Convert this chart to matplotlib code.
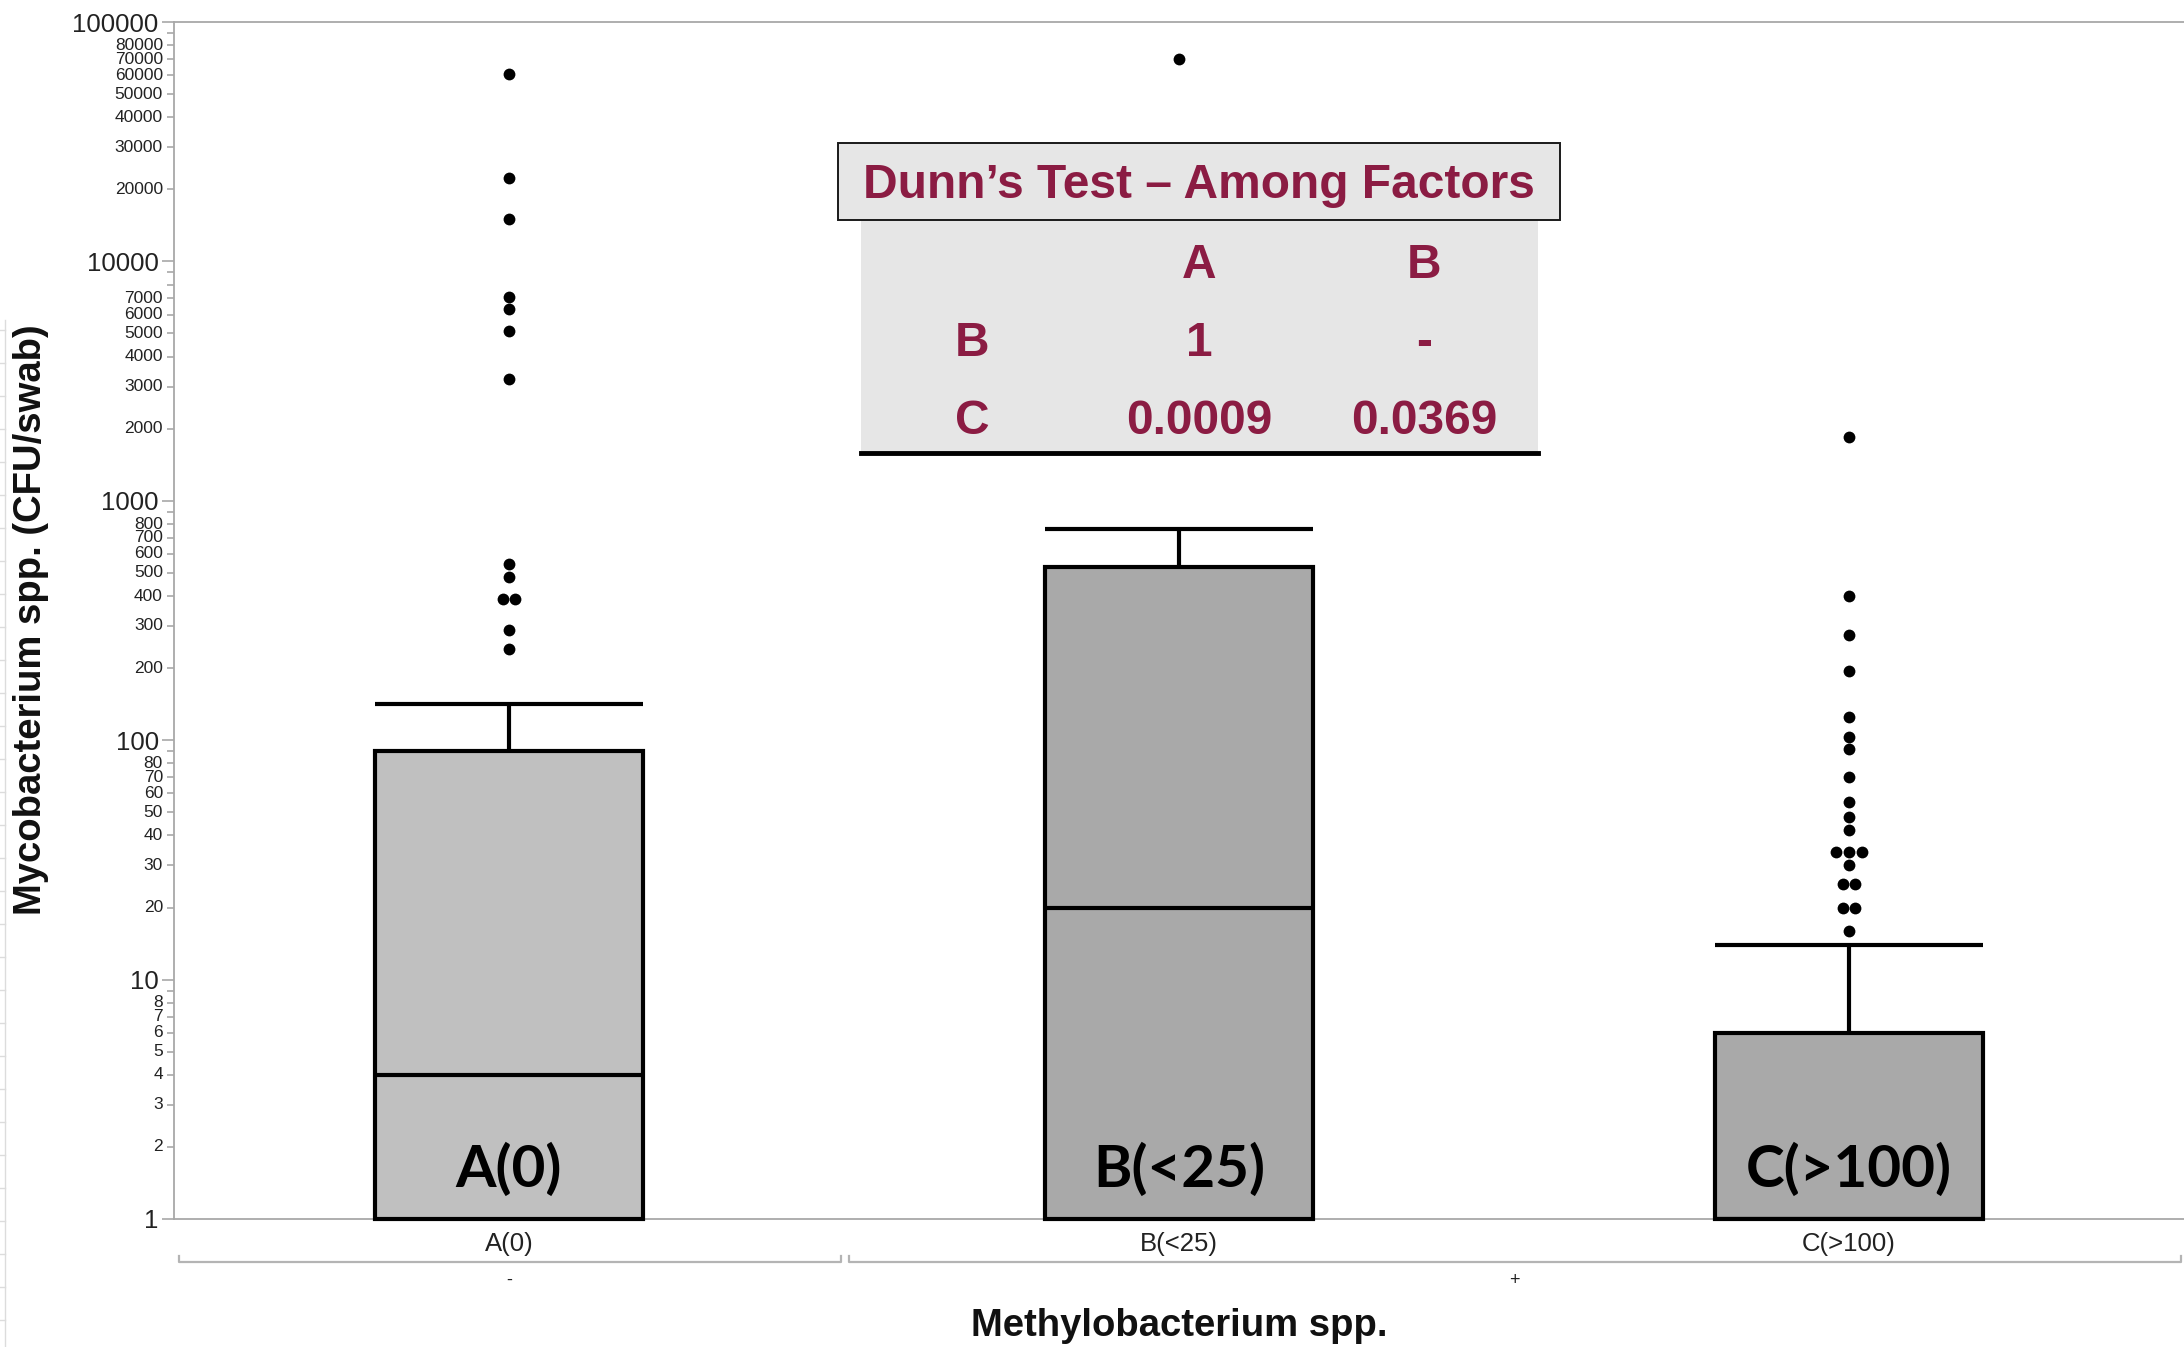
import matplotlib
matplotlib.use("Agg")
import matplotlib.pyplot as plt
from matplotlib import font_manager
from matplotlib.lines import Line2D
from matplotlib.patches import Rectangle
from matplotlib.transforms import blended_transform_factory
from matplotlib.ticker import FixedLocator, NullFormatter

# ---- data ---------------------------------------------------------------
categories = ["A(0)", "B(<25)", "C(>100)"]
group_labels = ["-", "+"]
group_members = [[0], [1, 2]]
q3_values = [90, 530, 6]
median_values = [4, 20, 1]
whisker_tops = [142, 760, 14]
outliers_a = [60800, 22200, 15000, 7100, 6300, 5100, 3220,
              545, 480, 390, 390, 290, 240]
outliers_b = [70000]
outliers_c = [1850, 400, 275, 195, 125, 103, 92, 70, 55, 48, 42,
              34, 34, 34, 30, 25, 25, 20, 20, 16]
box_fill = ["#c0c0c0", "#a9a9a9", "#a9a9a9"]

dunn_title = "Dunn\u2019s Test \u2013 Among Factors"
dunn_cols = ["A", "B"]
dunn_rows = ["B", "C"]
dunn_pvalues = [["1", "-"], ["0.0009", "0.0369"]]

major_ticks = [1, 10, 100, 1000, 10000, 100000]
minor_ticks = [m * 10 ** e for e in range(5) for m in range(2, 10)]
labelled_minor = ([2, 3, 4, 5, 6, 7, 8] + [20, 30, 40, 50, 60, 70, 80]
                  + [200, 300, 400, 500, 600, 700, 800]
                  + [2000, 3000, 4000, 5000, 6000, 7000]
                  + [20000, 30000, 40000, 50000, 60000, 70000, 80000])

# ---- fonts --------------------------------------------------------------
available = {f.name for f in font_manager.fontManager.ttflist}
REG = "Liberation Sans"
NARROW = "Liberation Sans Narrow" if "Liberation Sans Narrow" in available else REG
HAS_NARROW = NARROW != REG
BIG = "Lato" if "Lato" in available else "DejaVu Sans"
plt.rcParams["font.family"] = [REG, "DejaVu Sans"]

W, H = 2184, 1347
fig = plt.figure(figsize=(W / 100, H / 100), dpi=100)
fig.patch.set_facecolor("white")

ax_left, ax_top, ax_bottom = 174, 22, 1219
ax = fig.add_axes([ax_left / W, 1 - ax_bottom / H, (W - ax_left) / W,
                   (ax_bottom - ax_top) / H])
ax.set_yscale("log")
ax.set_xlim(-0.5, 2.5)
ax.set_ylim(1, 100000)

spine_col = "#a8a8a8"
for side in ("left", "top", "bottom"):
    ax.spines[side].set_color(spine_col)
    ax.spines[side].set_linewidth(1.3)
ax.spines["right"].set_visible(False)

# y ticks: decades large, intermediate values small
ax.yaxis.set_major_locator(FixedLocator(major_ticks))
ax.yaxis.set_minor_locator(FixedLocator(minor_ticks))
ax.set_yticklabels([str(v) for v in major_ticks])
ax.yaxis.set_minor_formatter(NullFormatter())
ax.tick_params(axis="y", which="major", length=9, width=1.2, color=spine_col,
               labelsize=18.5, labelcolor="#222222", pad=2)
ax.tick_params(axis="y", which="minor", length=5, width=1.2, color=spine_col)
ytrans = blended_transform_factory(ax.transAxes, ax.transData)
for v in labelled_minor:
    ax.text(-0.0055, v, str(v), transform=ytrans, ha="right", va="center",
            fontsize=12.5, color="#222222", family=[NARROW, REG])

# x ticks
xpos = list(range(len(categories)))
ax.set_xticks(xpos)
ax.set_xticklabels(categories, family=[NARROW, REG],
                   fontsize=22 if HAS_NARROW else 18.5, color="#222222")
ax.tick_params(axis="x", length=0, pad=9)

# boxes, medians, whiskers
bw = 0.4
lw = 3.0
ax.bar(xpos, [q - 1 for q in q3_values], bottom=1, width=bw, color=box_fill,
       edgecolor="black", linewidth=lw, zorder=3, clip_on=False)
ax.hlines(median_values, [x - bw / 2 for x in xpos], [x + bw / 2 for x in xpos],
          color="black", linewidth=lw, zorder=4)
ax.vlines(xpos, q3_values, whisker_tops, color="black", linewidth=lw, zorder=3)
ax.hlines(whisker_tops, [x - bw / 2 for x in xpos], [x + bw / 2 for x in xpos],
          color="black", linewidth=lw, zorder=3)

# outlier points, tied values spread side by side
def swarm(values, spacing=0.019):
    xs = []
    counts = {}
    for v in values:
        counts[v] = counts.get(v, 0) + 1
    seen = {}
    for v in values:
        n = counts[v]
        i = seen.get(v, 0)
        seen[v] = i + 1
        xs.append((i - (n - 1) / 2) * spacing)
    return xs

for x, vals in zip(xpos, [outliers_a, outliers_b, outliers_c]):
    offs = swarm(vals)
    ax.plot([x + o for o in offs], vals, "o", color="black", markersize=8.5,
            markeredgewidth=0, zorder=5, clip_on=False)

# category names inside the boxes
xtrans = blended_transform_factory(ax.transData, ax.transAxes)
for x, c in zip(xpos, categories):
    ax.text(x, 0.041, c, transform=xtrans, ha="center", va="center",
            fontsize=42, fontweight="bold", family=[BIG, "DejaVu Sans"],
            color="black", zorder=6)

# grouping level below the category labels
gy = -0.036
for members, lab in zip(group_members, group_labels):
    x0 = members[0] - 0.5 + 0.007
    x1 = members[-1] + 0.5 - 0.005
    ax.add_line(Line2D([x0, x0, x1, x1], [gy + 0.005, gy, gy, gy + 0.005],
                       transform=xtrans, color="#b4b4b4", linewidth=1.6,
                       clip_on=False))
    ax.text((members[0] + members[-1]) / 2, gy - 0.015, lab, transform=xtrans,
            ha="center", va="center", fontsize=13, color="#222222")

# axis titles
fig.text(31 / W, 1 - 620 / H, "Mycobacterium spp. (CFU/swab)", rotation=90,
         ha="center", va="center", fontsize=27.5, fontweight="bold",
         color="#111111")
fig.text(1179 / W, 1 - 1326 / H, "Methylobacterium spp.", ha="center",
         va="center", fontsize=27.5, fontweight="bold", color="#111111")

# faint row markers along the left edge
edge = fig.add_axes([0, 0, 1, 1], zorder=-1)
edge.set_xlim(0, W)
edge.set_ylim(H, 0)
edge.axis("off")
edge.add_line(Line2D([5, 5], [320, H], color="#dcdcdc", linewidth=1))
for yy in range(330, H, 33):
    edge.add_line(Line2D([0, 5], [yy, yy], color="#dcdcdc", linewidth=1))

# ---- Dunn's test table --------------------------------------------------
ov = fig.add_axes([0, 0, 1, 1], zorder=10)
ov.set_xlim(0, W)
ov.set_ylim(H, 0)
ov.axis("off")
ov.patch.set_alpha(0)

maroon = "#8b1c43"
tsize = 40 if HAS_NARROW else 34.5
ov.add_patch(Rectangle((861, 220), 677, 233, facecolor="#e6e6e6",
                       edgecolor="none"))
ov.add_patch(Rectangle((838, 143), 722, 77, facecolor="#e6e6e6",
                       edgecolor="#1a1a1a", linewidth=1.4))
ov.add_line(Line2D([861, 1538], [453, 453], color="black", linewidth=3.5))
ov.text(1199, 186, dunn_title, ha="center", va="center", fontsize=tsize,
        fontweight="bold", color=maroon, family=[NARROW, REG])

col_x = [1199, 1424]
row_label_x = 972
head_y = 265
row_y = [343, 421]
for cx, cl in zip(col_x, dunn_cols):
    ov.text(cx, head_y, cl, ha="center", va="center", fontsize=tsize,
            fontweight="bold", color=maroon, family=[NARROW, REG])
for ry, rl, vals in zip(row_y, dunn_rows, dunn_pvalues):
    ov.text(row_label_x, ry, rl, ha="center", va="center", fontsize=tsize,
            fontweight="bold", color=maroon, family=[NARROW, REG])
    for cx, v in zip(col_x, vals):
        ov.text(cx, ry, v, ha="center", va="center", fontsize=tsize,
                fontweight="bold", color=maroon, family=[NARROW, REG])

fig.savefig("out.png", dpi=100, facecolor="white")
